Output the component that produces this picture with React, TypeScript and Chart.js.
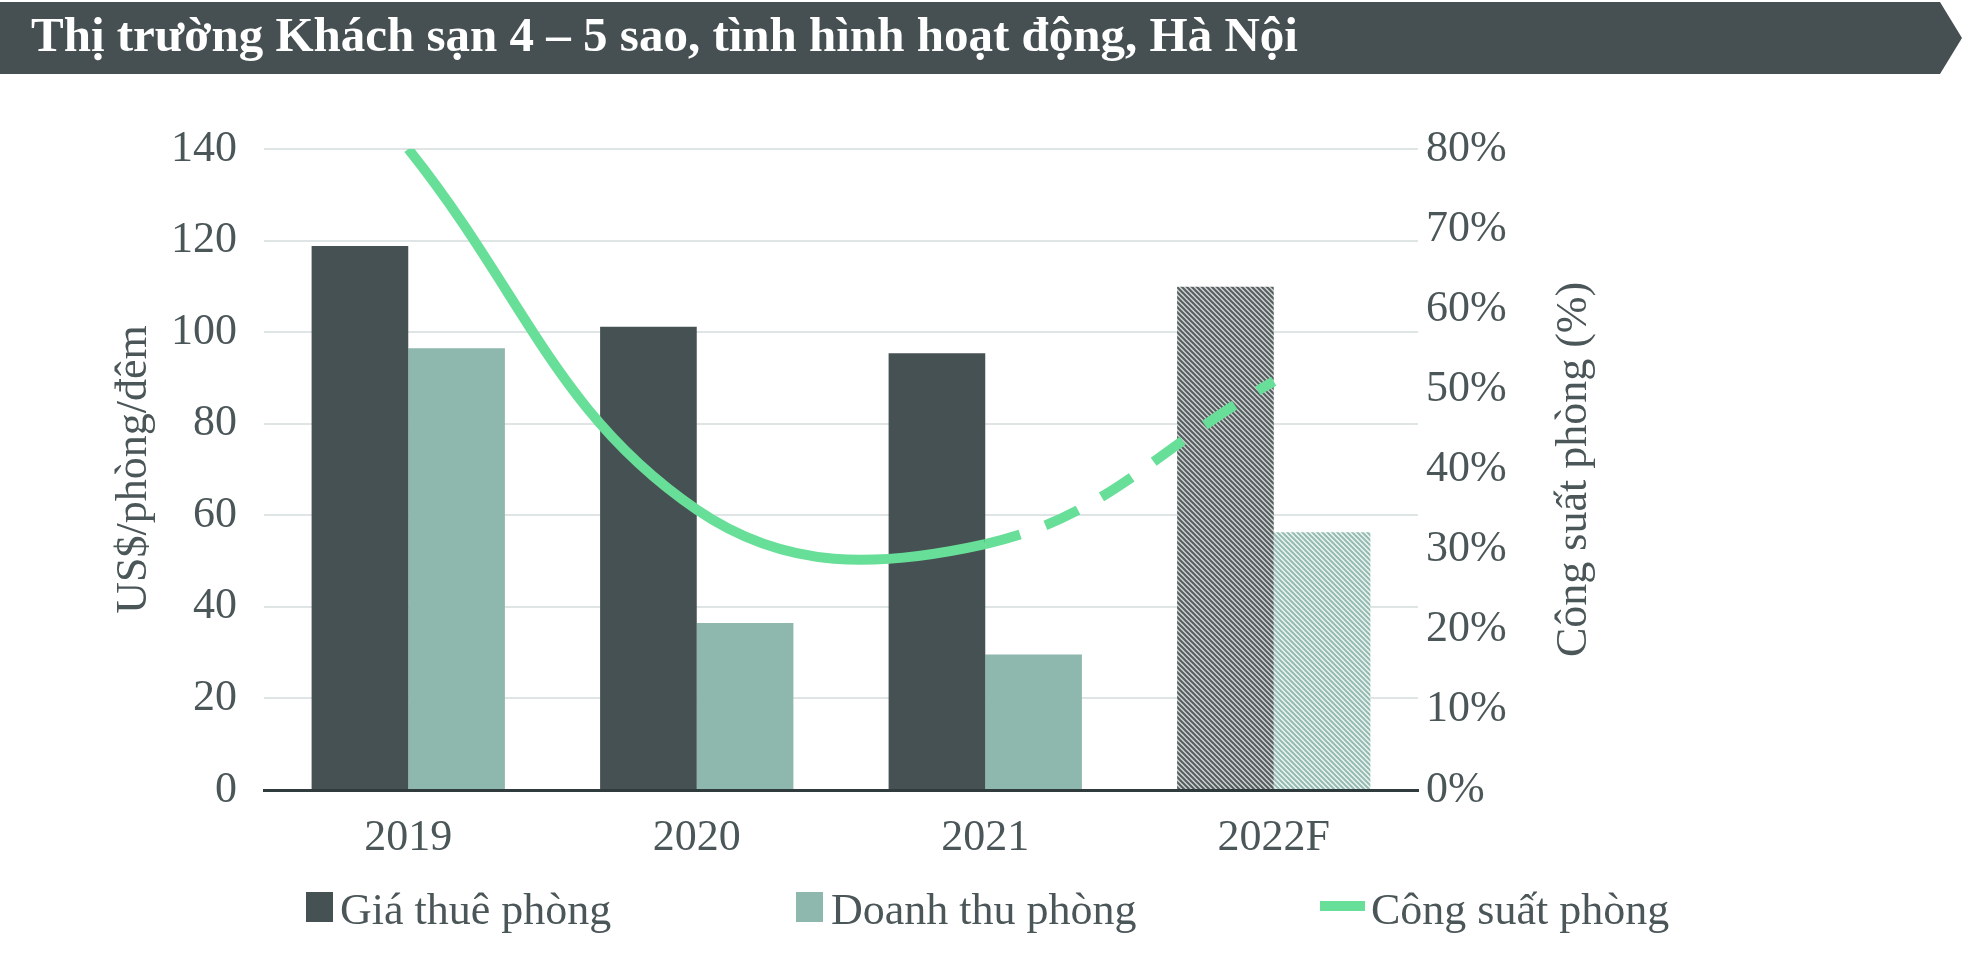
import React, { useEffect, useRef } from "react";
import { Chart, registerables } from "chart.js";

Chart.register(...registerables);

const TITLE = "Thị trường Khách sạn 4 – 5 sao, tình hình hoạt động, Hà Nội";
const categories = ["2019", "2020", "2021", "2022F"];
const roomRate = [118.8, 101.2, 95.4, 109.9];
const roomRevenue = [96.5, 36.5, 29.6, 56.3];
const occupancy = [80, 35, 30.7, 51];
const leftTicks = [0, 20, 40, 60, 80, 100, 120, 140];
const rightTicks = [0, 10, 20, 30, 40, 50, 60, 70, 80];
const legendLabels = ["Giá thuê phòng", "Doanh thu phòng", "Công suất phòng"];
const leftTitle = "US$/phòng/đêm";
const rightTitle = "Công suất phòng (%)";

const FONT = "'Liberation Serif', 'Times New Roman', serif";
const DARK = "#465153";
const LIGHT = "#8eb7ad";
const GREEN = "#68df98";
const TEXT = "#4b5658";
const PLOT_RIGHT = 1418;

function makeHatch(bg: string, fg: string): CanvasPattern | string {
  const s = 5;
  const c = document.createElement("canvas");
  c.width = s;
  c.height = s;
  const x = c.getContext("2d");
  if (!x) return fg;
  x.fillStyle = bg;
  x.fillRect(0, 0, s, s);
  x.strokeStyle = fg;
  x.lineWidth = 2;
  x.beginPath();
  x.moveTo(-1, -1);
  x.lineTo(s + 1, s + 1);
  x.moveTo(-s - 1, -1);
  x.lineTo(1, s + 1);
  x.moveTo(s - 1, -1);
  x.lineTo(2 * s + 1, s + 1);
  x.stroke();
  const p = x.createPattern(c, "repeat");
  return p || fg;
}

const decorPlugin = {
  id: "decor",
  afterDraw(chart: any) {
    const ctx = chart.ctx;
    const area = chart.chartArea;
    const midY = (area.top + area.bottom) / 2;
    ctx.save();
    ctx.fillStyle = TEXT;
    ctx.font = `44px ${FONT}`;
    ctx.textAlign = "center";
    ctx.textBaseline = "middle";
    ctx.save();
    ctx.translate(134, midY);
    ctx.rotate(-Math.PI / 2);
    ctx.fillText(leftTitle, 0, 0);
    ctx.restore();
    ctx.save();
    ctx.translate(1574, midY);
    ctx.rotate(-Math.PI / 2);
    ctx.fillText(rightTitle, 0, 0);
    ctx.restore();

    ctx.textAlign = "left";
    ctx.textBaseline = "alphabetic";
    const baseY = 924;
    ctx.fillStyle = DARK;
    ctx.fillRect(306, 892, 27, 30);
    ctx.fillStyle = LIGHT;
    ctx.fillRect(796, 892, 27, 30);
    ctx.fillStyle = GREEN;
    ctx.fillRect(1320, 901, 45, 10);
    ctx.fillStyle = TEXT;
    ctx.fillText(legendLabels[0], 340, baseY);
    ctx.fillText(legendLabels[1], 831, baseY);
    ctx.fillText(legendLabels[2], 1371, baseY);
    ctx.restore();
  },
};

export default function App() {
  const ref = useRef<HTMLCanvasElement | null>(null);

  useEffect(() => {
    const canvas = ref.current;
    if (!canvas) return;
    const darkHatch = makeHatch("#cdd1d1", "#555d5f");
    const lightHatch = makeHatch("#eef5f3", "#93bbb1");

    const chart = new Chart(canvas, {
      type: "bar",
      data: {
        labels: categories,
        datasets: [
          {
            type: "line",
            label: legendLabels[2],
            data: occupancy,
            yAxisID: "y1",
            borderColor: GREEN,
            backgroundColor: GREEN,
            borderWidth: 10,
            borderCapStyle: "butt",
            pointRadius: 0,
            tension: 0.4,
            order: 0,
            segment: {
              borderDash: (c: any) => (c.p0DataIndex >= 2 ? [36, 27] : undefined),
            },
          } as any,
          {
            type: "bar",
            label: legendLabels[0],
            data: roomRate,
            yAxisID: "y",
            backgroundColor: (c: any) => (c.dataIndex === 3 ? darkHatch : DARK),
            borderWidth: 0,
            order: 1,
          },
          {
            type: "bar",
            label: legendLabels[1],
            data: roomRevenue,
            yAxisID: "y",
            backgroundColor: (c: any) => (c.dataIndex === 3 ? lightHatch : LIGHT),
            borderWidth: 0,
            order: 1,
          },
        ],
      },
      options: {
        responsive: false,
        animation: false,
        events: [],
        layout: { padding: { top: 149, left: 0, right: 0, bottom: 0 } },
        datasets: {
          bar: { categoryPercentage: 0.67, barPercentage: 1 },
        },
        plugins: {
          legend: { display: false },
          tooltip: { enabled: false },
          title: { display: false },
        },
        scales: {
          x: {
            grid: { display: false, drawTicks: false },
            border: { display: true, color: "#2f3b3d", width: 3 },
            ticks: {
              color: TEXT,
              font: { family: FONT, size: 44 },
              padding: 22,
              maxRotation: 0,
            },
            afterFit: (s: any) => {
              s.height = 172;
            },
          },
          y: {
            position: "left",
            min: 0,
            max: 140,
            afterBuildTicks: (s: any) => {
              s.ticks = leftTicks.map((v) => ({ value: v }));
            },
            grid: { color: "#dfe5e5", lineWidth: 2, drawTicks: false },
            border: { display: false },
            ticks: {
              color: TEXT,
              font: { family: FONT, size: 44 },
              padding: 27,
            },
            afterFit: (s: any) => {
              s.width = 264;
            },
          },
          y1: {
            position: "right",
            min: 0,
            max: 80,
            afterBuildTicks: (s: any) => {
              s.ticks = rightTicks.map((v) => ({ value: v }));
            },
            grid: { display: false, drawTicks: false },
            border: { display: false },
            ticks: {
              color: TEXT,
              font: { family: FONT, size: 44 },
              padding: 8,
              callback: (v: any) => `${v}%`,
            },
            afterFit: (s: any) => {
              s.width = 1970 - PLOT_RIGHT;
            },
          },
        },
      },
      plugins: [decorPlugin],
    } as any);

    return () => chart.destroy();
  }, []);

  return (
    <div style={{ position: "absolute", left: 0, top: 0, width: 1970, height: 962, background: "#ffffff", overflow: "hidden" }}>
      <svg width={1970} height={80} style={{ position: "absolute", left: 0, top: 0 }}>
        <polygon points="0,2 1940,2 1962,38 1940,74 0,74" fill="#465052" />
      </svg>
      <div
        style={{
          position: "absolute",
          left: 31,
          top: 7,
          fontFamily: FONT,
          fontWeight: "bold",
          fontSize: 49,
          lineHeight: "56px",
          color: "#ffffff",
          whiteSpace: "nowrap",
        }}
      >
        {TITLE}
      </div>
      <canvas ref={ref} width={1970} height={962} style={{ position: "absolute", left: 0, top: 0, width: 1970, height: 962 }} />
    </div>
  );
}
